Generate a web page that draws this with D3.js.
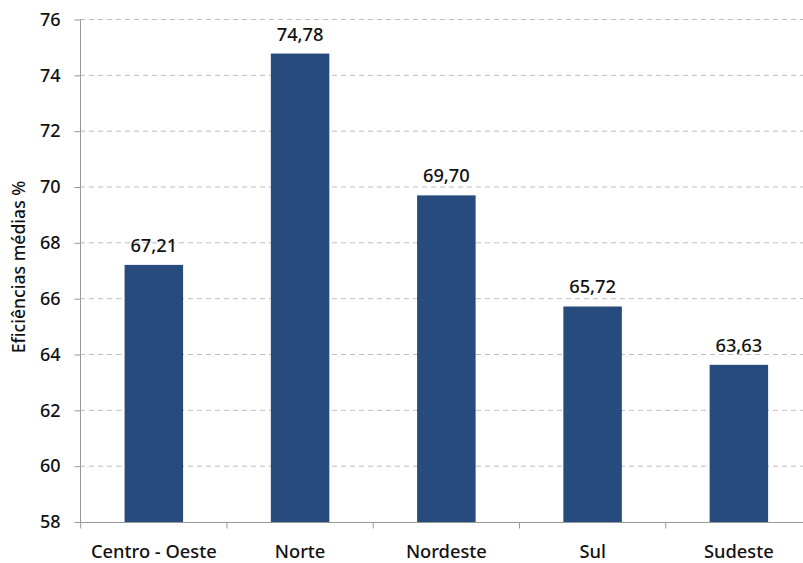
<!DOCTYPE html>
<html><head><meta charset="utf-8">
<script src="https://cdn.jsdelivr.net/npm/d3@7"></script>
<style>body{margin:0;background:#fff}text{font-family:"Noto Sans",sans-serif}</style>
</head><body><svg id="c" width="803" height="563"></svg>
<script>
const categories = ["Centro - Oeste","Norte","Nordeste","Sul","Sudeste"];
const values = [67.21,74.78,69.70,65.72,63.63];
const valueLabels = ["67,21","74,78","69,70","65,72","63,63"];
const yTicks = [58,60,62,64,66,68,70,72,74,76];

const svg = d3.select("#c");
const x = d3.scaleBand().domain(categories).range([80.7,812]).paddingInner(0.6).paddingOuter(0.3);
const y = d3.scaleLinear().domain([58,76]).range([522,19.5]);

svg.append("g").selectAll("line").data(yTicks.slice(1)).join("line")
  .attr("x1",80).attr("x2",803).attr("y1",d=>y(d)).attr("y2",d=>y(d))
  .attr("stroke","#bdbdbd").attr("stroke-width",1).attr("stroke-dasharray","5,4");

svg.append("g").selectAll("rect").data(values).join("rect")
  .attr("x",(d,i)=>x(categories[i])).attr("width",x.bandwidth())
  .attr("y",d=>y(d)).attr("height",d=>y(58)-y(d))
  .attr("fill","#284b7e");

svg.append("g").selectAll("text").data(values).join("text")
  .attr("x",(d,i)=>x(categories[i])+x.bandwidth()/2).attr("y",d=>y(d)-13)
  .attr("text-anchor","middle").attr("font-size",18.3).attr("font-weight",500).attr("fill","#111")
  .text((d,i)=>valueLabels[i]);

const ya = svg.append("g").attr("transform","translate(80.5,0)")
  .call(d3.axisLeft(y).tickValues(yTicks).tickSize(6).tickPadding(14).tickFormat(d3.format("d")));
ya.select(".domain").attr("stroke","#999").attr("d","M0,"+y(76)+"V"+y(58));
ya.selectAll(".tick line").attr("stroke","#999");
ya.selectAll("text").attr("font-size",18).attr("font-weight",500).attr("fill","#111").attr("font-family","Noto Sans");

const xa = svg.append("g").attr("transform","translate(0,"+(y(58)+0.5)+")");
xa.append("line").attr("x1",80).attr("x2",803).attr("stroke","#999");
const bounds = d3.range(categories.length+1).map(i=>80.7+i*x.step());
xa.selectAll("line.t").data(bounds).join("line").attr("class","t")
  .attr("x1",d=>d).attr("x2",d=>d).attr("y1",0).attr("y2",6).attr("stroke","#999");
xa.selectAll("text").data(categories).join("text")
  .attr("x",d=>x(d)+x.bandwidth()/2).attr("y",35.5)
  .attr("text-anchor","middle").attr("font-size",18.3).attr("font-weight",500).attr("fill","#111")
  .text(d=>d);

svg.append("text").attr("transform","translate(25,267) rotate(-90)")
  .attr("text-anchor","middle").attr("font-size",17.6).attr("font-weight",500).attr("fill","#111")
  .text("Eficiências médias %");
</script></body></html>
